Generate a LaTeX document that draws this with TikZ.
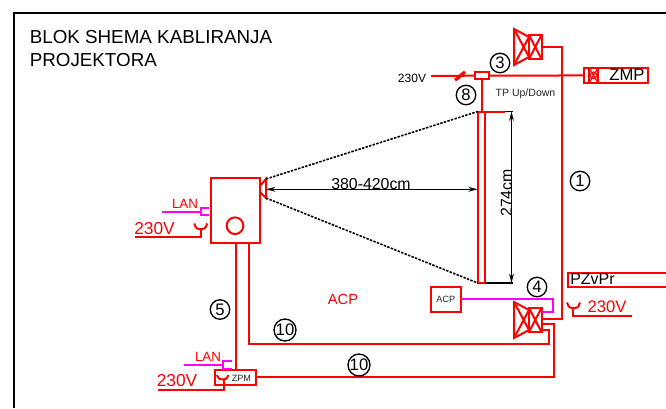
\documentclass[tikz,border=0pt]{standalone}
\usepackage{fontspec}
\setmainfont{Liberation Sans}
\usetikzlibrary{arrows.meta,calc}
\definecolor{pureRed}{RGB}{255,0,0}
\definecolor{pureMag}{RGB}{255,0,255}
\tikzset{
  rl/.style={draw=pureRed,line width=1.5pt},
  mg/.style={draw=pureMag,line width=1.5pt},
  dim/.style={draw=black,line width=1pt,{Stealth[length=7pt,width=3.6pt]}-{Stealth[length=7pt,width=3.6pt]}},
  bk/.style={draw=black,line width=1pt},
  dsh/.style={draw=black,line width=1.2pt,dash pattern=on 1.8pt off 1pt},
  num/.style={draw=black,circle,line width=1pt,minimum size=14.6pt,inner sep=0pt,font=\fontsize{12.5}{13}\selectfont},
  redbox/.style={rl,rectangle,inner sep=0pt,outer sep=0pt,anchor=north west,fill=white},
  lbl/.style={inner sep=0pt,text=black!85},
  rlbl/.style={inner sep=0pt,text=pureRed,font=\fontsize{13}{14}\selectfont},
}
% speaker: horn and box, origin at the centre of the box's left side
\newcommand{\spk}[2]{%
  \begin{scope}[shift={(#1,#2)}]
    \draw[rl] (0,-12) rectangle (12.5,12);
    \draw[rl] (0,-12) -- (12.5,12) (0,12) -- (12.5,-12);
    \draw[rl] (0,-10) -- (-15,-18) -- (-15,18) -- (0,10);
    \draw[rl] (-15,-18) -- (0,10) (-15,18) -- (0,-10);
  \end{scope}}
% socket: two arms curving into the stem
\newcommand{\sock}[2]{%
  \draw[rl] ($(#1,#2)+(-6.5,-5.5)$) .. controls ($(#1,#2)+(-5,-0.5)$) and ($(#1,#2)+(-3,0.5)$) .. ($(#1,#2)+(0,0.5)$) .. controls ($(#1,#2)+(3,0.5)$) and ($(#1,#2)+(5,-0.5)$) .. ($(#1,#2)+(6.5,-5.5)$);}
\begin{document}
\begin{tikzpicture}[x=0.75pt,y=-0.75pt]
\useasboundingbox (0,0) rectangle (666,408);
% frame
\coordinate (fa) at (14,408); \coordinate (fb) at (14,13); \coordinate (fc) at (666,13);
\draw[black,line width=1.5pt] (fa) -- (fb) -- (fc);
% title
\node[lbl,anchor=base west,text=black,font=\fontsize{14.1}{15}\selectfont] (t1) at (29.5,43) {BLOK SHEMA KABLIRANJA};
\node[lbl,anchor=base west,text=black,font=\fontsize{14.1}{15}\selectfont] (t2) at (29.5,66) {PROJEKTORA};
% projector
\node[redbox,minimum width=36.75pt,minimum height=48.75pt] (proj) at (211,178) {};
\node[rl,circle,minimum size=12.5pt,inner sep=0pt] (lensc) at (235,225.7) {};
\coordinate (l1) at (266,179); \coordinate (l2) at (266,198);
\draw[rl] (260,186) -- (l1) -- (l2) -- (260,192);
% screen
\node[redbox,minimum width=5.6pt,minimum height=128.5pt] (scr) at (477.7,111.5) {};
\coordinate (dt) at (512.5,111.5); \coordinate (db) at (512.5,283);
\coordinate (st) at (485,111.5); \coordinate (sb) at (485,283);
\draw[bk] (st) -- (dt); \draw[bk] (sb) -- (db);
\draw[rl] (st) -- (505,111.5);
\draw[dim] (511.5,111.5) -- (511.5,283);
\draw[dsh] (l1) -- (477.7,111.5);
\draw[dsh] (l2) -- (477.7,283);
\coordinate (ha) at (266,189.3); \coordinate (hb) at (477.7,189.3);
\draw[dim] (ha) -- (hb);
\node[lbl,text=black,font=\fontsize{11.9}{12}\selectfont] (d1) at (371,184) {380-420cm};
\node[lbl,text=black,rotate=90,font=\fontsize{11.9}{12}\selectfont] (d2) at (506.5,193) {274cm};
% top line
\node[redbox,minimum width=10.7pt,minimum height=5.5pt] (tp) at (474.7,72) {};
\node[redbox,minimum width=48pt,minimum height=11.6pt,fill=none] (zmp) at (584,67.7) {};
\coordinate (lineL) at (431,76);
\draw[rl] (lineL) -- (tp.west);
\draw[rl] (tp.east) -- (zmp.west);
\draw[pureRed,line width=2.4pt] (455,80) -- (458,78) -- (461,75) -- (465,72);
\draw[rl] (tp.south) -- (scr.north -| tp.south);
\draw[rl] (589,67.7) -- (589,83) (598,67.7) -- (598,83);
\draw[pureRed,line width=0.9pt] (589,67.7) -- (598,83) (589,83) -- (598,67.7);
\node[draw=pureRed,line width=0.9pt,circle,minimum size=5pt,inner sep=0pt] (zc) at (593.5,75.3) {};
\node[lbl,text=black,font=\fontsize{12.5}{13}\selectfont] (zt) at (627,75) {ZMP};
\node[lbl,text=black,font=\fontsize{9}{10}\selectfont] (v0) at (412,78) {230V};
\node[lbl,font=\fontsize{7.9}{9}\selectfont] (tpt) at (525.5,94) {TP Up/Down};
% speakers
\spk{529}{47}
\spk{529}{320}
\coordinate (s3) at (541.5,47); \coordinate (m1) at (561.5,47); \coordinate (m2) at (561.5,319); \coordinate (s4) at (541.5,319);
\draw[rl] (s3) -- (m1) -- (m2) -- (s4);
% ACP
\node[redbox,minimum width=22.2pt,minimum height=19pt] (acp) at (431,286.7) {};
\node[lbl,font=\fontsize{6.8}{7}\selectfont] (acpt) at (acp.center) {ACP};
\coordinate (p1) at (552.5,299); \coordinate (p2) at (552.5,311.7); \coordinate (p3) at (541.5,311.7);
\draw[mg] (acp.east |- p1) -- (p1) -- (p2) -- (p3);
\node[lbl,text=pureRed,font=\fontsize{11}{12}\selectfont] (acpr) at (343,299) {ACP};
% ZPM
\node[redbox,minimum width=30.7pt,minimum height=11.2pt] (zpm) at (215,370) {};
\node[lbl,font=\fontsize{6.8}{7}\selectfont,anchor=west] (zpmt) at (231.5,378) {ZPM};
% cables
\coordinate (c1) at (236,243); \coordinate (c2) at (236,370);
\draw[rl] (c1) -- (c2);
\coordinate (c3) at (248.7,243); \coordinate (c4) at (248.7,344); \coordinate (c5) at (549,344); \coordinate (c6) at (549,330); \coordinate (c7) at (541.5,330);
\draw[rl] (c3) -- (c4) -- (c5) -- (c6) -- (c7);
\coordinate (e1) at (541.5,323.5); \coordinate (e2) at (553.5,323.5); \coordinate (e3) at (553.5,377);
\draw[rl] (e1) -- (e2) -- (e3) -- (zpm.east |- e3);
% projector LAN and power
\coordinate (la) at (162,211.7); \coordinate (lb) at (201,211.7);
\draw[mg] (la) -- (lb);
\draw[mg] (209,208) -- (201,208) -- (201,215.3) -- (209,215.3);
\node[lbl,text=pureRed,font=\fontsize{10}{11}\selectfont] (lan1) at (185,204) {LAN};
\node[rlbl] (v1) at (154.5,228.5) {230V};
\coordinate (pa) at (135,236.7); \coordinate (pb) at (200.7,236.7); \coordinate (pc) at (200.7,228);
\draw[rl] (pa) -- (pb) -- (pc);
\sock{200.7}{229}
% ZPM LAN and power
\coordinate (lc) at (184,365); \coordinate (ld) at (223,365);
\draw[mg] (lc) -- (ld);
\draw[mg] (231.6,361) -- (223,361) -- (223,368.5) -- (231.6,368.5);
\node[lbl,text=pureRed,font=\fontsize{10}{11}\selectfont] (lan2) at (208,357) {LAN};
\node[rlbl] (v2) at (177,381) {230V};
\coordinate (qa) at (158,389.5); \coordinate (qb) at (224,389.5); \coordinate (qc) at (224,379);
\draw[rl] (qa) -- (qb) -- (qc);
\draw[rl] (217,375) .. controls (218.5,379) and (220,379.5) .. (222.5,379.5) .. controls (225,379.5) and (227,379) .. (228.5,375);
% PZvPr
\coordinate (z1) at (666,273); \coordinate (z2) at (567.7,273); \coordinate (z3) at (567.7,287); \coordinate (z4) at (666,287);
\draw[rl] (z1) -- (z2) -- (z3) -- (z4);
\node[lbl,text=black,anchor=base west,font=\fontsize{12}{13}\selectfont] (pz) at (570,284.5) {PZvPr};
\node[rlbl,font=\fontsize{12.5}{13}\selectfont] (v3) at (607,307) {230V};
\coordinate (ra) at (573,307); \coordinate (rb) at (573,315.7); \coordinate (rc) at (632,315.7);
\draw[rl] (ra) -- (rb) -- (rc);
\sock{573.5}{308}
% numbers
\node[num] (n1) at (580,181) {1};
\node[num] (n3) at (500,63) {3};
\node[num] (n8) at (466,95) {8};
\node[num] (n4) at (537,287) {4};
\node[num] (n5) at (220,309.5) {5};
\node[num] (n10a) at (285,330) {10};
\node[num] (n10b) at (359,365) {10};
\end{tikzpicture}
\end{document}
